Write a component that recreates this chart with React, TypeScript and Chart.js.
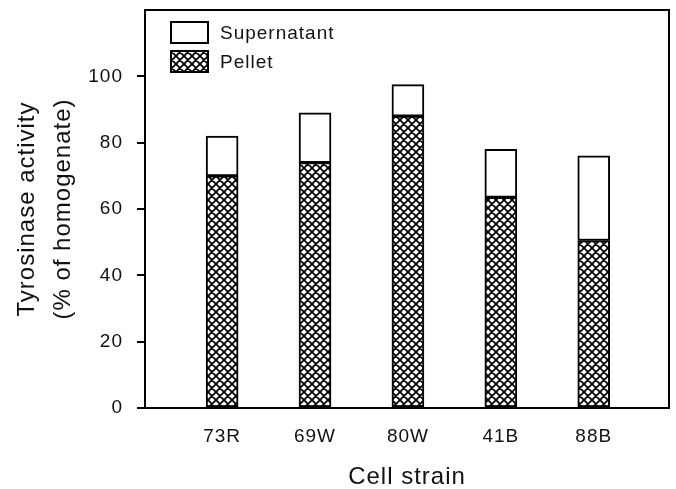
import React, { useEffect, useRef } from 'react';
import { Chart, registerables } from 'chart.js';

Chart.register(...registerables);

const categories = ['73R', '69W', '80W', '41B', '88B'];
const pelletValues = [70, 74, 88, 63.5, 50.5];
const supernatantValues = [12, 15, 9.5, 14.5, 25.5];
const yTickValues = [0, 20, 40, 60, 80, 100];
const seriesNames = ['Supernatant', 'Pellet'];
const yTitle = ['Tyrosinase activity', '(% of homogenate)'];
const xTitle = 'Cell strain';

const FONT = "'Liberation Sans', Arial, Helvetica, sans-serif";

function makeHatch(): CanvasPattern | string {
  const s = 8;
  const c = document.createElement('canvas');
  c.width = s;
  c.height = s;
  const g = c.getContext('2d');
  if (!g) return '#888';
  g.fillStyle = '#fff';
  g.fillRect(0, 0, s, s);
  g.strokeStyle = '#000';
  g.lineWidth = 1.8;
  g.beginPath();
  for (const k of [-s, 0, s]) {
    g.moveTo(k, 0);
    g.lineTo(k + s, s);
    g.moveTo(k + s, 0);
    g.lineTo(k, s);
  }
  g.stroke();
  const p = g.createPattern(c, 'repeat');
  return p || '#888';
}

export default function App() {
  const ref = useRef<HTMLCanvasElement | null>(null);

  useEffect(() => {
    const canvas = ref.current;
    if (!canvas) return;
    const hatch = makeHatch();

    const spacingPlugin = {
      id: 'spacing',
      beforeLayout(chart: any) {
        try { chart.ctx.letterSpacing = '1px'; } catch (e) {}
      },
      beforeDraw(chart: any) {
        try { chart.ctx.letterSpacing = '1px'; } catch (e) {}
      },
    };

    const framePlugin = {
      id: 'frame',
      afterDraw(chart: any) {
        const { ctx, chartArea } = chart;
        ctx.save();
        ctx.strokeStyle = '#000';
        ctx.lineWidth = 2;
        ctx.strokeRect(chartArea.left, chartArea.top, chartArea.right - chartArea.left, chartArea.bottom - chartArea.top);
        // legend
        const x0 = chartArea.left + 26;
        const y0 = chartArea.top + 12;
        const bw = 37;
        const bh = 21;
        const gap = 29;
        ctx.font = `19px ${FONT}`;
        ctx.textBaseline = 'middle';
        ctx.textAlign = 'left';
        [0, 1].forEach((di, i) => {
          const ds = chart.data.datasets.find((d: any) => d.label === seriesNames[di]);
          const y = y0 + i * gap;
          ctx.fillStyle = ds.backgroundColor;
          ctx.fillRect(x0, y, bw, bh);
          ctx.lineWidth = 2;
          ctx.strokeStyle = '#000';
          ctx.strokeRect(x0, y, bw, bh);
          ctx.fillStyle = '#111';
          ctx.fillText(ds.label, x0 + bw + 12, y + bh / 2 + 1);
        });
        ctx.restore();
      },
    };

    const chart = new Chart(canvas, {
      type: 'bar',
      data: {
        datasets: [
          {
            label: seriesNames[1],
            data: pelletValues.map((v, i) => ({ x: i, y: v })),
            backgroundColor: hatch as any,
            borderColor: '#000',
            borderWidth: 2,
            borderSkipped: false,
            barThickness: 32,
          },
          {
            label: seriesNames[0],
            data: supernatantValues.map((v, i) => ({ x: i, y: v })),
            backgroundColor: '#fff',
            borderColor: '#000',
            borderWidth: 2,
            borderSkipped: false,
            barThickness: 32,
          },
        ],
      },
      options: {
        animation: false,
        responsive: false,
        devicePixelRatio: 1,
        layout: { padding: { left: 0, right: 7, top: 10, bottom: 0 } },
        plugins: {
          legend: { display: false },
          tooltip: { enabled: false },
        },
        scales: {
          x: {
            type: 'linear',
            stacked: true,
            offset: false,
            min: -0.83,
            max: 4.81,
            afterBuildTicks(scale: any) {
              scale.ticks = categories.map((_, i) => ({ value: i }));
            },
            afterFit(scale: any) {
              scale.height = 81;
              scale.paddingLeft = 0;
              scale.paddingRight = 0;
            },
            ticks: {
              color: '#111',
              font: { family: FONT, size: 19 },
              padding: 17,
              maxRotation: 0,
              autoSkip: false,
              callback: (v: any) => categories[v] ?? '',
            },
            grid: { drawOnChartArea: false, drawTicks: false, offset: false },
            border: { display: true, color: '#000', width: 2 },
            title: {
              display: true,
              text: xTitle,
              color: '#111',
              font: { family: FONT, size: 24, lineHeight: 1 },
              padding: { top: 0, bottom: 0 },
            },
          },
          y: {
            stacked: true,
            min: 0,
            max: 120,
            afterBuildTicks(scale: any) {
              scale.ticks = yTickValues.map((v) => ({ value: v }));
            },
            afterFit(scale: any) {
              scale.width = 145;
              scale.paddingTop = 0;
              scale.paddingBottom = 0;
            },
            ticks: {
              color: '#111',
              font: { family: FONT, size: 19 },
              padding: 14,
            },
            grid: { drawOnChartArea: false, drawTicks: true, tickLength: 8, color: '#000', lineWidth: 2 },
            border: { display: true, color: '#000', width: 2 },
            title: {
              display: true,
              text: yTitle,
              color: '#111',
              font: { family: FONT, size: 24, lineHeight: 1.5 },
              padding: { top: 9, bottom: 0 },
            },
          },
        },
      },
      plugins: [spacingPlugin, framePlugin],
    } as any);

    return () => chart.destroy();
  }, []);

  return (
    <div style={{ position: 'fixed', left: 0, top: 0, width: 676, height: 489, background: '#fff' }}>
      <canvas ref={ref} width={676} height={489} style={{ display: 'block', width: 676, height: 489 }} />
    </div>
  );
}
